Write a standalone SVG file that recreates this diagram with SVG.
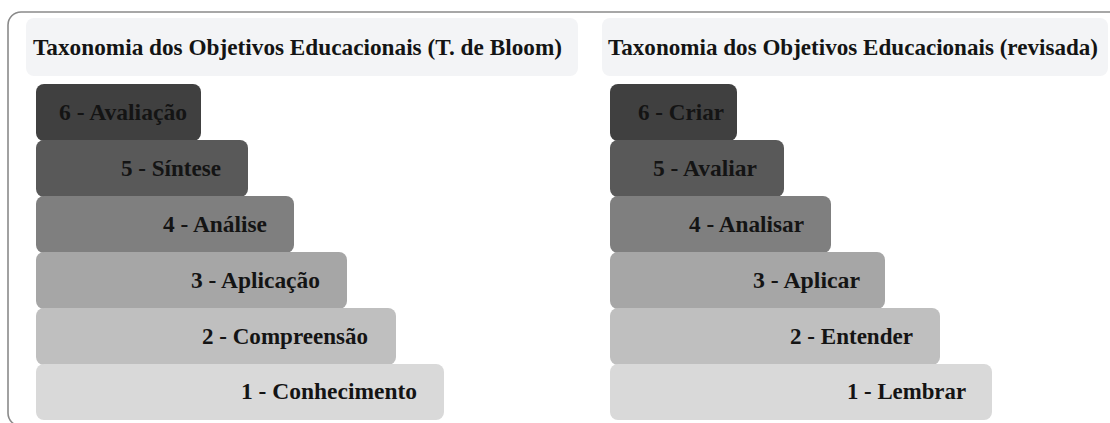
<svg xmlns="http://www.w3.org/2000/svg" width="1110" height="423" viewBox="0 0 1110 423">
<style>
.frame{fill:none;stroke:#8a8a8a;stroke-width:1.6}
.title{fill:#f3f4f6}
.t{font-family:"Liberation Serif","Times New Roman",serif;font-weight:bold;font-size:24px;fill:#141414}
.tt{font-size:23px}
.lbl{text-anchor:end}
.l6{fill:#404040}.l5{fill:#595959}.l4{fill:#7f7f7f}.l3{fill:#a6a6a6}.l2{fill:#bfbfbf}.l1{fill:#d9d9d9}
</style>
<rect class="frame" x="8" y="12" width="1200" height="414" rx="13"/>
<g id="connectors"/>
<g id="title-left">
<rect class="title" x="26" y="18" width="552" height="58" rx="8"/>
<text class="t tt" x="33" y="55" textLength="529" lengthAdjust="spacingAndGlyphs">Taxonomia dos Objetivos Educacionais (T. de Bloom)</text>
</g>
<g id="title-right">
<rect class="title" x="602" y="18" width="506" height="58" rx="8"/>
<text class="t tt" x="608" y="55" textLength="490" lengthAdjust="spacingAndGlyphs">Taxonomia dos Objetivos Educacionais (revisada)</text>
</g>
<g id="left-6"><rect class="l6" x="36" y="84" width="165" height="57" rx="8"/><text class="t lbl" x="187" y="120" textLength="128" lengthAdjust="spacingAndGlyphs">6 - Avaliação</text></g>
<g id="left-5"><rect class="l5" x="36" y="140" width="212" height="57" rx="8"/><text class="t lbl" x="221" y="176" textLength="100" lengthAdjust="spacingAndGlyphs">5 - Síntese</text></g>
<g id="left-4"><rect class="l4" x="36" y="196" width="258" height="57" rx="8"/><text class="t lbl" x="267" y="232" textLength="104" lengthAdjust="spacingAndGlyphs">4 - Análise</text></g>
<g id="left-3"><rect class="l3" x="36" y="252" width="311" height="57" rx="8"/><text class="t lbl" x="320" y="288" textLength="129" lengthAdjust="spacingAndGlyphs">3 - Aplicação</text></g>
<g id="left-2"><rect class="l2" x="36" y="308" width="360" height="57" rx="8"/><text class="t lbl" x="368" y="344" textLength="166" lengthAdjust="spacingAndGlyphs">2 - Compreensão</text></g>
<g id="left-1"><rect class="l1" x="36" y="364" width="408" height="56" rx="8"/><text class="t lbl" x="417" y="399" textLength="176" lengthAdjust="spacingAndGlyphs">1 - Conhecimento</text></g>
<g id="right-6"><rect class="l6" x="610" y="84" width="127" height="57" rx="8"/><text class="t lbl" x="724" y="120" textLength="86" lengthAdjust="spacingAndGlyphs">6 - Criar</text></g>
<g id="right-5"><rect class="l5" x="610" y="140" width="174" height="57" rx="8"/><text class="t lbl" x="757" y="176" textLength="104" lengthAdjust="spacingAndGlyphs">5 - Avaliar</text></g>
<g id="right-4"><rect class="l4" x="610" y="196" width="221" height="57" rx="8"/><text class="t lbl" x="804" y="232" textLength="115" lengthAdjust="spacingAndGlyphs">4 - Analisar</text></g>
<g id="right-3"><rect class="l3" x="610" y="252" width="275" height="57" rx="8"/><text class="t lbl" x="860" y="288" textLength="107" lengthAdjust="spacingAndGlyphs">3 - Aplicar</text></g>
<g id="right-2"><rect class="l2" x="610" y="308" width="330" height="57" rx="8"/><text class="t lbl" x="913" y="344" textLength="123" lengthAdjust="spacingAndGlyphs">2 - Entender</text></g>
<g id="right-1"><rect class="l1" x="610" y="364" width="382" height="56" rx="8"/><text class="t lbl" x="966" y="399" textLength="119" lengthAdjust="spacingAndGlyphs">1 - Lembrar</text></g>
</svg>
